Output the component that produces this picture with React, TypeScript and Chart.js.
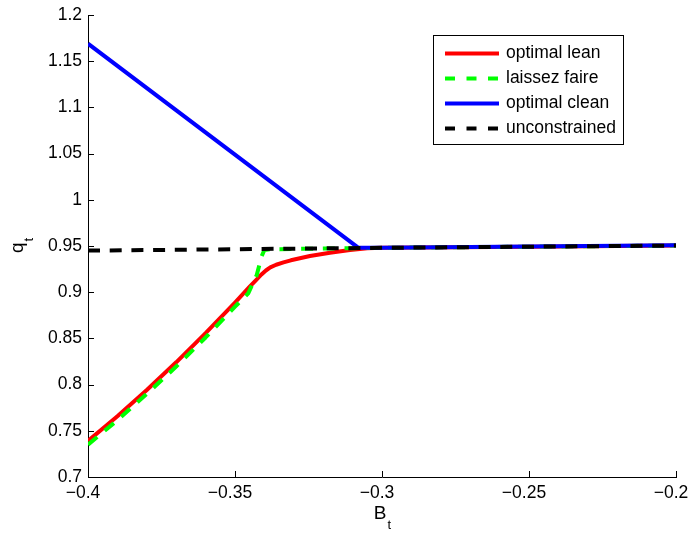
import React, { useEffect, useRef } from 'react';
import { Chart, registerables } from 'chart.js';

Chart.register(...registerables);

// ---- data ----
const seriesNames = ['optimal lean', 'laissez faire', 'optimal clean', 'unconstrained'];

const leanB = [-0.4, -0.39, -0.38, -0.37, -0.36, -0.35, -0.345, -0.343, -0.341, -0.3395, -0.338, -0.336, -0.3335, -0.331, -0.3245, -0.3177, -0.3109, -0.305, -0.3, -0.25, -0.2];
const leanQ = [0.739, 0.7658, 0.7942, 0.8241, 0.8557, 0.8888, 0.906, 0.9125, 0.9192, 0.9235, 0.9268, 0.9297, 0.9322, 0.9345, 0.9392, 0.9428, 0.9457, 0.9475, 0.948, 0.9493, 0.9505];

const laissezB = [-0.4, -0.39, -0.38, -0.37, -0.36, -0.35, -0.3455, -0.3426, -0.341, -0.34, -0.338, -0.33, -0.3, -0.25, -0.2];
const laissezQ = [0.735, 0.7615, 0.79, 0.8195, 0.851, 0.8843, 0.8988, 0.9186, 0.9384, 0.9457, 0.9465, 0.9468, 0.948, 0.9493, 0.9505];

const cleanB = [-0.4, -0.308, -0.3, -0.25, -0.2];
const cleanQ = [1.169, 0.948, 0.9482, 0.9495, 0.9507];

const unconB = [-0.4, -0.3, -0.2];
const unconQ = [0.945, 0.948, 0.9505];

const xTicks = [-0.4, -0.35, -0.3, -0.25, -0.2];
const yTicks = [0.7, 0.75, 0.8, 0.85, 0.9, 0.95, 1, 1.05, 1.1, 1.15, 1.2];

const colors = ['#ff0000', '#00ff00', '#0000ff', '#000000'];
const dashed = [false, true, false, true];

const FONT = '"Liberation Sans", Arial, Helvetica, sans-serif';

const toPts = (xs: number[], ys: number[]) => xs.map((x, i) => ({ x, y: ys[i] }));

const fmt = (v: number) => String(Math.round(v * 1000) / 1000).replace('-', '\u2212');

const decor = {
  id: 'decor',
  beforeDatasetsDraw(chart: any) {
    const { ctx, chartArea } = chart;
    const xs = chart.scales.x;
    const ys = chart.scales.y;
    ctx.save();
    ctx.strokeStyle = '#000';
    ctx.lineWidth = 1;
    ctx.beginPath();
    xTicks.forEach((v) => {
      const px = Math.round(xs.getPixelForValue(v)) + 0.5;
      ctx.moveTo(px, chartArea.bottom);
      ctx.lineTo(px, chartArea.bottom - 6);
    });
    yTicks.forEach((v) => {
      const py = Math.round(ys.getPixelForValue(v)) + 0.5;
      ctx.moveTo(chartArea.left, py);
      ctx.lineTo(chartArea.left + 6, py);
    });
    ctx.stroke();
    ctx.restore();
  },
  afterDraw(chart: any) {
    const { ctx, chartArea } = chart;
    ctx.save();
    // legend box
    const bx = 433.5, by = 35.5, bw = 190, bh = 109;
    ctx.fillStyle = '#fff';
    ctx.fillRect(bx, by, bw, bh);
    ctx.strokeStyle = '#000';
    ctx.lineWidth = 1;
    ctx.setLineDash([]);
    ctx.strokeRect(bx, by, bw, bh);
    const rowY = [53.5, 78.5, 103.5, 128.5];
    seriesNames.forEach((name, i) => {
      ctx.beginPath();
      ctx.strokeStyle = colors[i];
      ctx.lineWidth = 4;
      ctx.lineCap = 'butt';
      ctx.setLineDash(dashed[i] ? [10, 11.5] : []);
      ctx.moveTo(445, rowY[i]);
      ctx.lineTo(499, rowY[i]);
      ctx.stroke();
      ctx.setLineDash([]);
      ctx.fillStyle = '#000';
      ctx.font = `17.5px ${FONT}`;
      ctx.textAlign = 'left';
      ctx.textBaseline = 'middle';
      ctx.fillText(name, 506, rowY[i]);
    });

    // x-axis title B_t
    ctx.fillStyle = '#000';
    ctx.textBaseline = 'alphabetic';
    ctx.textAlign = 'left';
    ctx.font = `19px ${FONT}`;
    const wB = ctx.measureText('B').width;
    ctx.font = `13px ${FONT}`;
    const wt = ctx.measureText('t').width;
    const cx = (chartArea.left + chartArea.right) / 2;
    const sx = cx - (wB + wt) / 2;
    ctx.font = `19px ${FONT}`;
    ctx.fillText('B', sx, 519);
    ctx.font = `13px ${FONT}`;
    ctx.fillText('t', sx + wB + 1, 529);

    // y-axis title q_t
    ctx.translate(23, (chartArea.top + chartArea.bottom) / 2);
    ctx.rotate(-Math.PI / 2);
    ctx.font = `19px ${FONT}`;
    const wq = ctx.measureText('q').width;
    const sq = -(wq + wt) / 2;
    ctx.fillText('q', sq, 0);
    ctx.font = `13px ${FONT}`;
    ctx.fillText('t', sq + wq + 1, 10);
    ctx.restore();
  },
};

export default function App() {
  const ref = useRef<HTMLCanvasElement | null>(null);

  useEffect(() => {
    if (!ref.current) return;
    const all = [
      toPts(leanB, leanQ),
      toPts(laissezB, laissezQ),
      toPts(cleanB, cleanQ),
      toPts(unconB, unconQ),
    ];
    const chart = new Chart(ref.current, {
      type: 'line',
      data: {
        datasets: all.map((pts, i) => ({
          label: seriesNames[i],
          data: pts,
          borderColor: colors[i],
          backgroundColor: colors[i],
          borderWidth: 4,
          borderDash: dashed[i] ? [12, 9.7] : [],
          borderCapStyle: 'butt',
          borderJoinStyle: 'round',
          pointRadius: 0,
          tension: 0,
          fill: false,
          order: 3 - i,
        })),
      },
      options: {
        responsive: false,
        animation: false,
        events: [],
        layout: { padding: { left: 0, right: 13, top: 15, bottom: 0 } },
        plugins: {
          legend: { display: false },
          tooltip: { enabled: false },
          title: { display: false },
        },
        scales: {
          x: {
            type: 'linear',
            min: -0.4,
            max: -0.2,
            afterBuildTicks: (scale: any) => {
              scale.ticks = xTicks.map((v) => ({ value: v }));
            },
            afterFit: (scale: any) => {
              scale.height = 58;
              scale.paddingLeft = 0;
              scale.paddingRight = 0;
            },
            grid: { display: false, drawTicks: false },
            border: { display: true, color: '#000', width: 1 },
            ticks: {
              color: '#000',
              font: { family: FONT, size: 17.5 },
              padding: 6,
              labelOffset: -5,
              maxRotation: 0,
              autoSkip: false,
              callback: (v: any) => fmt(Number(v)),
            },
          },
          y: {
            type: 'linear',
            min: 0.7,
            max: 1.2,
            afterBuildTicks: (scale: any) => {
              scale.ticks = yTicks.map((v) => ({ value: v }));
            },
            afterFit: (scale: any) => {
              scale.width = 88;
              scale.paddingTop = 0;
              scale.paddingBottom = 0;
            },
            grid: { display: false, drawTicks: false },
            border: { display: true, color: '#000', width: 1 },
            ticks: {
              color: '#000',
              font: { family: FONT, size: 17.5 },
              padding: 6,
              autoSkip: false,
              callback: (v: any) => fmt(Number(v)),
            },
          },
        },
      },
      plugins: [decor],
    } as any);
    return () => chart.destroy();
  }, []);

  return (
    <div style={{ position: 'absolute', left: 0, top: 0, width: 689, height: 535, background: '#fff' }}>
      <canvas ref={ref} width={689} height={535} style={{ display: 'block' }} />
    </div>
  );
}
